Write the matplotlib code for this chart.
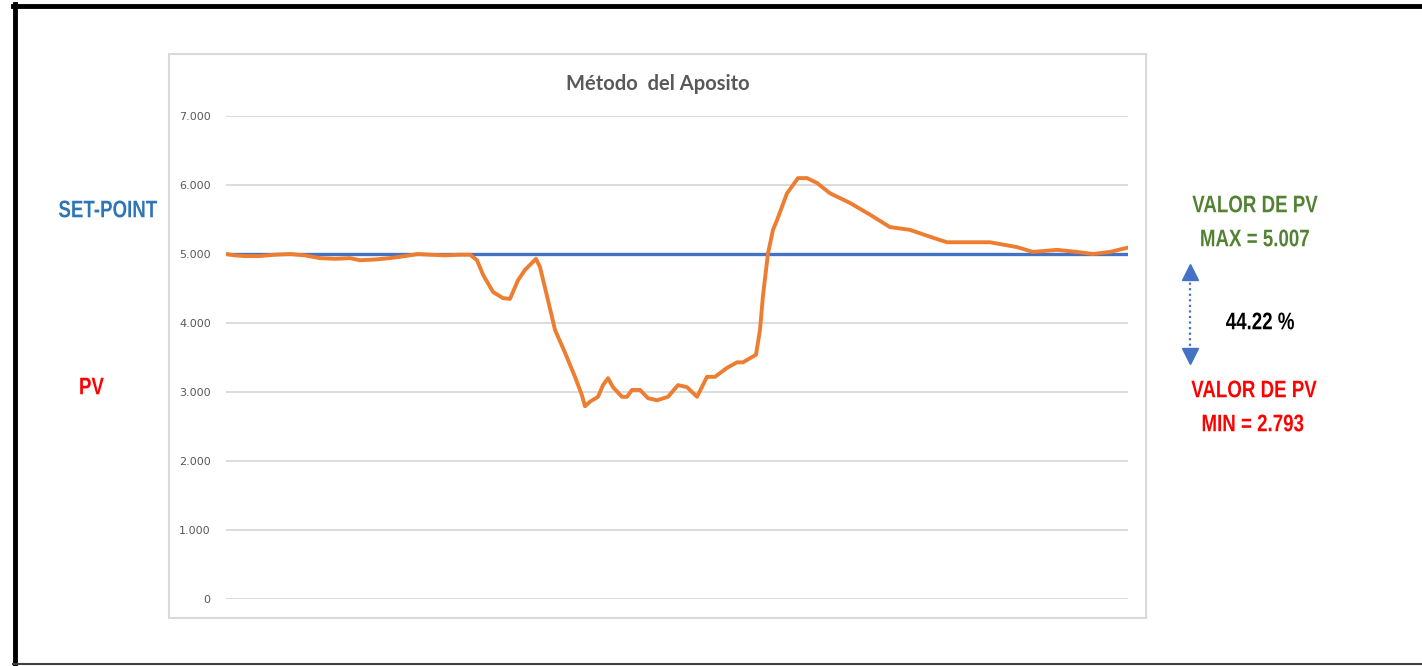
import matplotlib
matplotlib.use('Agg')
import matplotlib.pyplot as plt
from matplotlib.lines import Line2D
from matplotlib.patches import Rectangle, PathPatch
from matplotlib.textpath import TextPath
from matplotlib.font_manager import FontProperties
from matplotlib.transforms import Affine2D, IdentityTransform

# sample index (time) and measured process variable
t = [0, 9, 19, 34, 49, 64, 79, 94, 109, 124, 134, 149, 164, 179, 192, 204, 219, 234, 244,
     251, 257, 267, 277, 284, 292, 299, 310, 314, 322, 329, 339, 349, 356, 359, 364, 372,
     377, 382, 387, 396, 401, 406, 414, 422, 431, 442, 452, 461, 471, 481, 489, 501, 511,
     517, 524, 530, 534, 537, 542, 547, 551, 561, 572, 581, 591, 604, 624, 644, 664, 684,
     704, 721, 741, 764, 791, 807, 831, 851, 867, 884, 901]
pv = [5.00, 4.98, 4.97, 4.97, 4.99, 5.00, 4.98, 4.94, 4.93, 4.94, 4.91, 4.92, 4.94, 4.97,
      5.00, 4.99, 4.98, 4.99, 4.99, 4.91, 4.70, 4.45, 4.36, 4.35, 4.62, 4.77, 4.93, 4.81,
      4.33, 3.90, 3.57, 3.22, 2.95, 2.793, 2.86, 2.93, 3.10, 3.20, 3.07, 2.93, 2.93, 3.03,
      3.03, 2.91, 2.88, 2.93, 3.10, 3.07, 2.93, 3.22, 3.22, 3.35, 3.43, 3.43, 3.49, 3.54,
      3.90, 4.40, 5.01, 5.35, 5.49, 5.88, 6.10, 6.10, 6.03, 5.88, 5.74, 5.57, 5.39, 5.35,
      5.25, 5.17, 5.17, 5.17, 5.10, 5.03, 5.06, 5.03, 5.00, 5.03, 5.09]
set_point = 5.0

y_ticks = [0, 1, 2, 3, 4, 5, 6, 7]
y_labels = ['0', '1.000', '2.000', '3.000', '4.000', '5.000', '6.000', '7.000']

pv_max = 5.007
pv_min = 2.793
diff_pct = 44.22

W, H = 1422, 666
fig = plt.figure(figsize=(W / 100, H / 100), dpi=100)
fig.patch.set_facecolor('white')


def fx(px):
    return px / W


def fy(py):
    return 1 - py / H


bold = FontProperties(family='Liberation Sans', weight='bold')


def narrow_text(px, py, s, color, size=24, xscale=0.78):
    # condensed bold label, centred on pixel (px, py) measured from the top-left
    path = TextPath((0, 0), s, size=size, prop=bold)
    cap = TextPath((0, 0), 'H', size=size, prop=bold).get_extents()
    ext = path.get_extents()
    cx = (ext.x0 + ext.x1) / 2
    cy = (cap.y0 + cap.y1) / 2
    tr = Affine2D().translate(-cx, -cy).scale(xscale, 1).translate(px, H - py)
    fig.add_artist(PathPatch(tr.transform_path(path), facecolor=color, edgecolor='none',
                             transform=IdentityTransform()))


# outer frame
fig.add_artist(Line2D([fx(15), fx(15)], [fy(4), fy(666)], color='black', lw=3.5, transform=fig.transFigure))
fig.add_artist(Line2D([fx(13), fx(1422)], [fy(6), fy(6)], color='black', lw=3.5, transform=fig.transFigure))
fig.add_artist(Line2D([fx(13), fx(1422)], [fy(664), fy(664)], color='#404040', lw=1.5, transform=fig.transFigure))

# chart box
fig.add_artist(Rectangle((fx(169), fy(618)), fx(1146) - fx(169), fy(54) - fy(618),
                         fill=False, edgecolor='#d9d9d9', lw=1.5, transform=fig.transFigure))

ax = fig.add_axes([fx(226), fy(599), fx(1128) - fx(226), fy(116) - fy(599)])
ax.set_xlim(0, 902)
ax.set_ylim(0, 7)
ax.set_yticks(y_ticks)
ax.set_yticklabels(y_labels, color='#595959', fontsize=8)
ax.set_xticks([])
ax.tick_params(axis='y', length=0, pad=11)
for s in ax.spines.values():
    s.set_visible(False)
ax.grid(axis='y', color='#d9d9d9', lw=1.3)
ax.set_axisbelow(True)

ax.axhline(set_point, color='#4472c4', lw=2.4, zorder=2)
ax.plot(t, pv, color='#ed7d31', lw=2.8, zorder=3, solid_joinstyle='round')

fig.text(fx(658), fy(84), 'Método  del Aposito', ha='center', va='center',
         fontsize=14.5, fontweight='bold', color='#595959', family=['Lato', 'DejaVu Sans'])

narrow_text(108, 209, 'SET-POINT', '#2e75b6')
narrow_text(92, 386, 'PV', '#ff0000')

narrow_text(1255, 204, 'VALOR DE PV', '#548235')
narrow_text(1255, 238, f'MAX = {pv_max:.3f}', '#548235')
narrow_text(1260, 321, f'{diff_pct:.2f} %', 'black')
narrow_text(1254, 389, 'VALOR DE PV', '#ff0000')
narrow_text(1253, 423, f'MIN = {pv_min:.3f}', '#ff0000')

# double-headed dotted arrow
fig.add_artist(Line2D([fx(1190), fx(1190)], [fy(277), fy(352)], color='#4472c4', lw=1.6,
                      ls=(0, (1, 1.5)), transform=fig.transFigure))
fig.add_artist(Line2D([fx(1190)], [fy(272)], marker='^', ms=11, color='#4472c4', lw=0,
                      transform=fig.transFigure))
fig.add_artist(Line2D([fx(1190)], [fy(356)], marker='v', ms=11, color='#4472c4', lw=0,
                      transform=fig.transFigure))

fig.savefig('out.png', dpi=100)
